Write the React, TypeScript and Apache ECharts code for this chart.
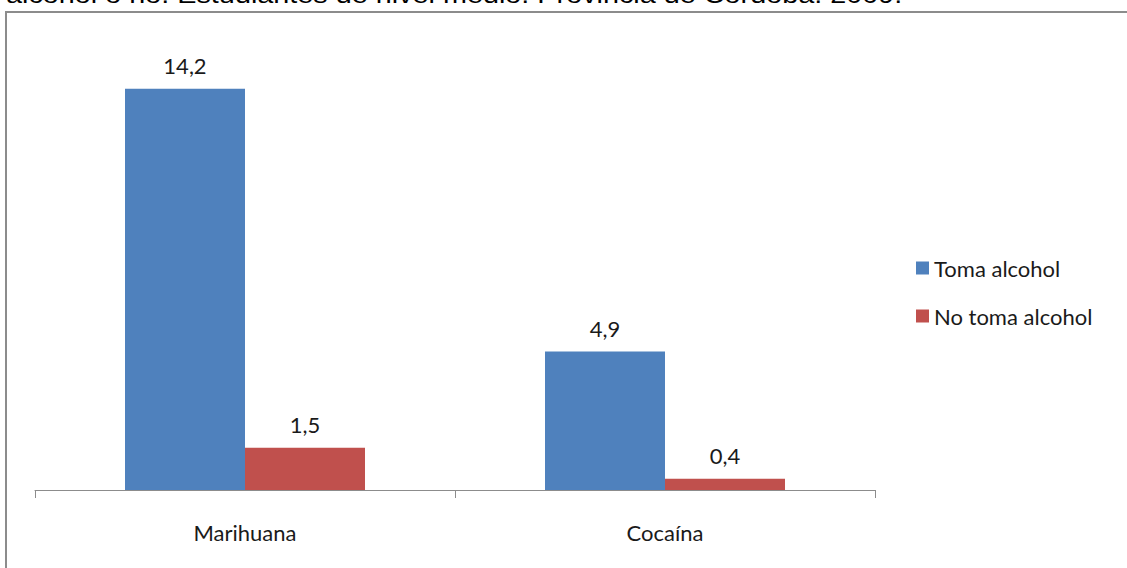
import React, { useEffect, useRef } from "react";
import * as echarts from "echarts";

const categories = ["Marihuana", "Cocaína"];
const seriesNames = ["Toma alcohol", "No toma alcohol"];
const tomaAlcohol = [14.2, 4.9];
const noTomaAlcohol = [1.5, 0.4];
const titleText = "alcohol o no. Estudiantes de nivel medio. Provincia de Córdoba. 2009.";

const fmt = (v: number) => v.toFixed(1).replace(".", ",");
const FONT = "Lato, 'Open Sans', sans-serif";

export default function App() {
  const ref = useRef<HTMLDivElement>(null);
  useEffect(() => {
    document.body.style.margin = "0";
    const chart = echarts.init(ref.current!, null, { renderer: "svg" });
    const labelStyle = {
      show: true,
      position: "top" as const,
      distance: 12,
      fontFamily: FONT,
      fontSize: 22,
      color: "#1a1a1a",
      formatter: (p: any) => fmt(p.value),
    };
    chart.setOption({
      animation: false,
      backgroundColor: "#ffffff",
      grid: { left: 35, right: 252, top: 38, bottom: 78 },
      legend: {
        orient: "vertical",
        left: 911,
        top: 252,
        itemWidth: 13,
        itemHeight: 13,
        itemGap: 26,
        icon: "rect",
        textStyle: { fontFamily: FONT, fontSize: 22, color: "#1a1a1a", padding: [0, 0, 0, 0] },
        data: seriesNames,
      },
      xAxis: {
        type: "category",
        data: categories,
        axisLine: { lineStyle: { color: "#8c8c8c", width: 1 } },
        axisTick: { show: true, length: 8, lineStyle: { color: "#8c8c8c" } },
        axisLabel: {
          margin: 31,
          fontFamily: FONT,
          fontSize: 22,
          color: "#1a1a1a",
        },
      },
      yAxis: {
        type: "value",
        min: 0,
        max: 16,
        show: false,
        splitLine: { show: false },
      },
      series: [
        {
          name: seriesNames[0],
          type: "bar",
          data: tomaAlcohol,
          barWidth: 120,
          barGap: "0%",
          itemStyle: { color: "#4f81bd" },
          label: labelStyle,
        },
        {
          name: seriesNames[1],
          type: "bar",
          data: noTomaAlcohol,
          barWidth: 120,
          barGap: "0%",
          itemStyle: { color: "#c0504d" },
          label: labelStyle,
        },
      ],
      graphic: [
        {
          type: "rect",
          shape: { x: 6, y: 12, width: 1200, height: 600 },
          style: { fill: "none", stroke: "#8c8c8c", lineWidth: 2 },
          silent: true,
        },
        {
          type: "text",
          x: 6,
          y: 7,
          scaleX: 1.2,
          style: {
            text: titleText,
            fontFamily: "'Liberation Sans', Arial, sans-serif",
            fontSize: 24,
            fill: "#000000",
            verticalAlign: "bottom",
          },
          silent: true,
        },
      ],
    });
    return () => chart.dispose();
  }, []);
  return (
    <div
      ref={ref}
      style={{ position: "fixed", left: 0, top: 0, width: 1127, height: 568 }}
    />
  );
}
